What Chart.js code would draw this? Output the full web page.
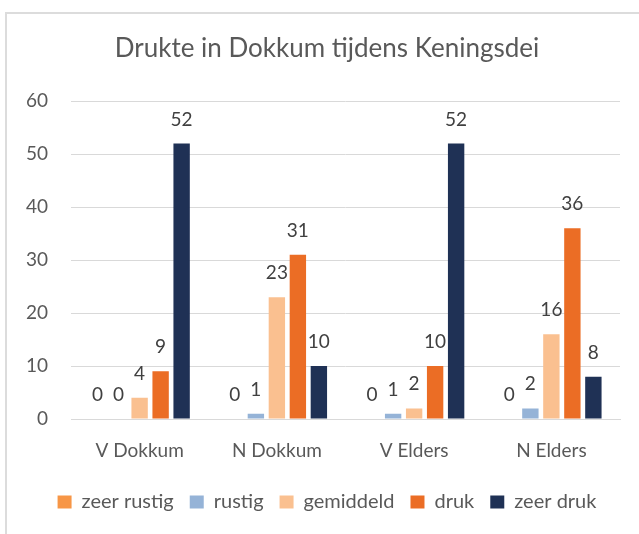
<!DOCTYPE html>
<html lang="nl">
<head>
  <meta charset="UTF-8">
  <title>Drukte in Dokkum tijdens Keningsdei</title>
  <style>
    html, body { margin: 0; padding: 0; background: #fff; overflow: hidden; }
    .frame {
      position: absolute; left: 5px; top: 12px; width: 700px; height: 600px;
      border: 2px solid #dcdcdc; box-sizing: border-box;
    }
    .chartBox { position: absolute; left: 0; top: 0; width: 639px; height: 534px; }
  </style>
</head>
<body>
<div class="frame"></div>
<div class="chartBox">
  <canvas id="myChart" width="639" height="534"></canvas>
</div>
<script src="https://cdn.jsdelivr.net/npm/chart.js"></script>
<script>
  // data
  const categories = ['V Dokkum', 'N Dokkum', 'V Elders', 'N Elders'];
  const seriesNames = ['zeer rustig', 'rustig', 'gemiddeld', 'druk', 'zeer druk'];
  const zeerRustig = [0, 0, 0, 0];
  const rustig = [0, 1, 1, 2];
  const gemiddeld = [4, 23, 2, 16];
  const druk = [9, 31, 10, 36];
  const zeerDruk = [52, 10, 52, 8];
  const yTicks = [0, 10, 20, 30, 40, 50, 60];

  const colors = ['#F79646', '#95B3D7', '#FAC090', '#EB6D25', '#1F3155'];
  const values = [zeerRustig, rustig, gemiddeld, druk, zeerDruk];
  const txtColor = '#595959';
  const fontFam = 'Lato, "Open Sans", sans-serif';

  // value labels above the bars
  const barLabels = {
    id: 'barLabels',
    afterDatasetsDraw(chart) {
      const c = chart.ctx;
      c.save();
      c.font = '19px ' + fontFam;
      c.fillStyle = '#404040';
      c.textAlign = 'center';
      c.textBaseline = 'alphabetic';
      chart.data.datasets.forEach((ds, i) => {
        chart.getDatasetMeta(i).data.forEach((bar, j) => {
          c.fillText(String(ds.data[j]), bar.x, bar.y - 18);
        });
      });
      c.restore();
    }
  };

  const ctx = document.getElementById('myChart');
  const myChart = new Chart(ctx, {
    type: 'bar',
    data: {
      labels: categories,
      datasets: seriesNames.map((name, i) => ({
        label: name,
        data: values[i],
        backgroundColor: colors[i],
        borderWidth: 0,
        categoryPercentage: 0.765,
        barPercentage: 0.78
      }))
    },
    options: {
      responsive: false,
      animation: false,
      layout: { padding: { left: 15, right: 0, top: 0, bottom: 12 } },
      plugins: {
        title: {
          display: true,
          text: 'Drukte in Dokkum tijdens Keningsdei',
          color: txtColor,
          font: { family: fontFam, size: 26, weight: 'normal' },
          padding: { top: 33, bottom: 37 }
        },
        legend: {
          position: 'bottom',
          labels: {
            color: txtColor,
            font: { family: fontFam, size: 20 },
            boxWidth: 14,
            boxHeight: 13,
            padding: 16
          }
        },
        tooltip: { enabled: false }
      },
      scales: {
        x: {
          grid: { display: false, drawTicks: false },
          border: { display: true, color: '#d9d9d9', width: 1 },
          ticks: { color: txtColor, font: { family: fontFam, size: 19 }, padding: 20 },
          afterFit(s) { s.height = 57; }
        },
        y: {
          min: 0,
          max: 60,
          afterBuildTicks(s) { s.ticks = yTicks.map(v => ({ value: v })); },
          grid: { color: '#d9d9d9', lineWidth: 1, drawTicks: false },
          border: { display: false },
          ticks: { color: txtColor, font: { family: fontFam, size: 19 }, padding: 23 },
          afterFit(s) { s.width = 56; }
        },
        // empty right axis, only keeps the plot clear of the right edge
        yRight: {
          position: 'right',
          display: true,
          grid: { display: false, drawTicks: false },
          border: { display: false },
          ticks: { display: false },
          afterFit(s) { s.width = 19; }
        }
      }
    },
    plugins: [barLabels]
  });
</script>
</body>
</html>
